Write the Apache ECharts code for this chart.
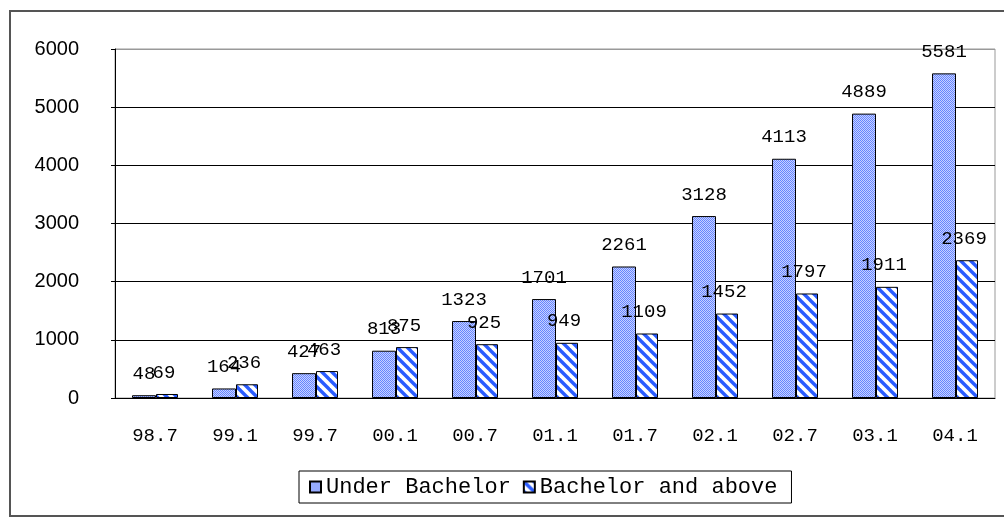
<!DOCTYPE html>
<html>
<head>
<meta charset="utf-8">
<title>chart</title>
<script src="https://cdn.jsdelivr.net/npm/echarts@6/dist/echarts.min.js"></script>
<style>
  html, body { margin: 0; padding: 0; background: #fff; }
  #chart { width: 1004px; height: 517px; }
</style>
</head>
<body>
<div id="chart"></div>
<script>
// data
const categories = ['98.7', '99.1', '99.7', '00.1', '00.7', '01.1', '01.7', '02.1', '02.7', '03.1', '04.1']
const underBachelor = [48, 164, 427, 813, 1323, 1701, 2261, 3128, 4113, 4889, 5581]
const bachelorAbove = [69, 236, 463, 875, 925, 949, 1109, 1452, 1797, 1911, 2369]
const seriesNames = ['Under Bachelor', 'Bachelor and above']

// checker fill for the first series
const makeDots = () => {
    const c = document.createElement('canvas')
    c.width = 2
    c.height = 2
    const ctx = c.getContext('2d')
    ctx.fillStyle = '#c8d2ff'
    ctx.fillRect(0, 0, 2, 2)
    ctx.fillStyle = '#6585ff'
    ctx.fillRect(0, 0, 1, 1)
    ctx.fillRect(1, 1, 1, 1)
    return c
}

// diagonal stripes (\) for the second series
const makeStripes = () => {
    const s = 10
    const c = document.createElement('canvas')
    c.width = s
    c.height = s
    const ctx = c.getContext('2d')
    ctx.fillStyle = '#ffffff'
    ctx.fillRect(0, 0, s, s)
    ctx.strokeStyle = '#2a5cff'
    ctx.lineWidth = 3.4
    for (let k = -1; k <= 1; k++) {
        ctx.beginPath()
        ctx.moveTo(-2, -2 + k * s)
        ctx.lineTo(s + 2, s + 2 + k * s)
        ctx.stroke()
    }
    return c
}

const monoFont = '"Liberation Mono", "DejaVu Sans Mono", monospace'

const labelStyle = {
    show: true,
    position: 'top',
    distance: 12,
    color: '#000',
    fontFamily: monoFont,
    fontSize: 19
}

const myChart = echarts.init(document.getElementById('chart'))
const option = {
    animation: false,
    backgroundColor: '#fff',
    graphic: [{
        type: 'rect',
        shape: { x: 10, y: 11, width: 1010, height: 505 },
        style: { fill: 'none', stroke: '#555', lineWidth: 2 },
        silent: true
    }],
    legend: {
        left: 299,
        top: 471,
        padding: [5, 14, 5, 10],
        itemGap: 12,
        itemWidth: 11,
        itemHeight: 11,
        icon: 'rect',
        borderColor: '#000',
        borderWidth: 1,
        textStyle: {
            color: '#000',
            fontFamily: monoFont,
            fontSize: 22
        },
        data: seriesNames
    },
    grid: {
        left: 115,
        right: 9,
        top: 49,
        bottom: 119,
        show: true,
        borderColor: '#999',
        borderWidth: 1
    },
    xAxis: {
        type: 'category',
        data: categories,
        axisLine: { lineStyle: { color: '#000', width: 1 } },
        axisTick: { inside: true, length: 5, lineStyle: { color: '#000' } },
        axisLabel: {
            color: '#000',
            fontFamily: monoFont,
            fontSize: 19,
            margin: 28
        }
    },
    yAxis: {
        type: 'value',
        min: 0,
        max: 6000,
        interval: 1000,
        axisLine: { show: true, lineStyle: { color: '#000' } },
        axisTick: { show: true, length: 4, lineStyle: { color: '#000' } },
        axisLabel: {
            color: '#000',
            fontFamily: '"Liberation Sans", Arial, sans-serif',
            fontSize: 20,
            margin: 36,
            formatter: value => String(value)
        },
        splitLine: {
            show: true,
            lineStyle: { color: ['#000', '#000', '#000', '#000', '#000', '#000', '#999'], width: 1 }
        }
    },
    series: [{
        name: seriesNames[0],
        type: 'bar',
        data: underBachelor,
        barWidth: 24,
        barGap: '0%',
        itemStyle: {
            color: { image: makeDots(), repeat: 'repeat' },
            borderColor: '#000',
            borderWidth: 1
        },
        label: labelStyle
    }, {
        name: seriesNames[1],
        type: 'bar',
        data: bachelorAbove,
        barWidth: 22,
        barGap: '0%',
        itemStyle: {
            color: { image: makeStripes(), repeat: 'repeat' },
            borderColor: '#000',
            borderWidth: 1
        },
        label: Object.assign({}, labelStyle, { offset: [-3, 0] })
    }]
}
myChart.setOption(option)
</script>
</body>
</html>
